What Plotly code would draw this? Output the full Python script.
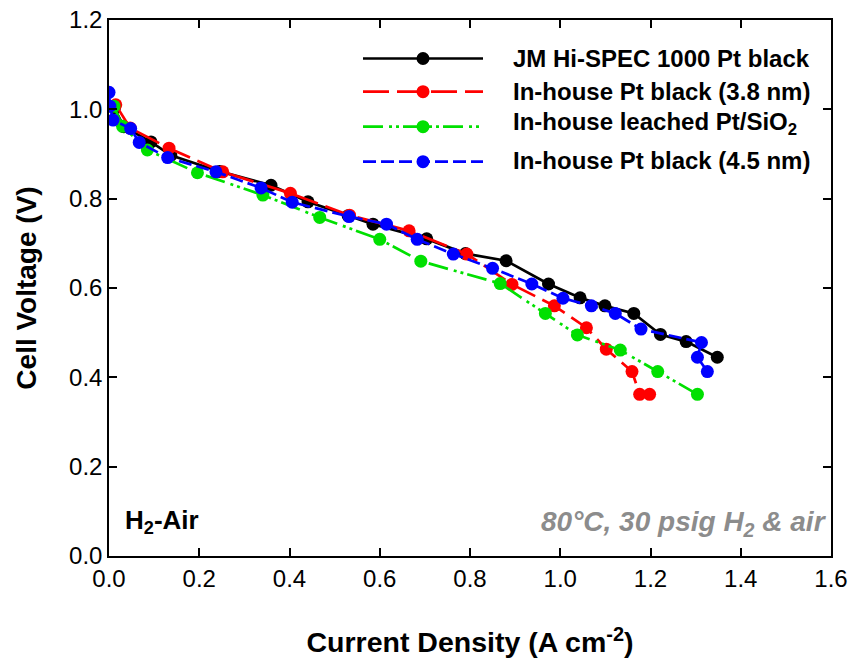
import plotly.graph_objects as go

# ---- data ----
jm_x = [0.012, 0.033, 0.093, 0.137, 0.245, 0.359, 0.441, 0.530, 0.585, 0.704, 0.790, 0.880, 0.974, 1.044, 1.099, 1.163, 1.222, 1.279, 1.348]
jm_y = [1.003, 0.961, 0.927, 0.897, 0.861, 0.830, 0.793, 0.762, 0.743, 0.710, 0.677, 0.661, 0.609, 0.578, 0.560, 0.543, 0.496, 0.480, 0.445]

pt38_x = [0.015, 0.047, 0.133, 0.252, 0.402, 0.533, 0.665, 0.793, 0.893, 0.987, 1.058, 1.102, 1.159, 1.176, 1.198]
pt38_y = [1.010, 0.958, 0.913, 0.860, 0.812, 0.763, 0.728, 0.676, 0.608, 0.560, 0.511, 0.463, 0.413, 0.362, 0.362]

sio2_x = [0.011, 0.030, 0.085, 0.196, 0.341, 0.467, 0.600, 0.691, 0.867, 0.967, 1.038, 1.133, 1.216, 1.304]
sio2_y = [1.007, 0.962, 0.909, 0.858, 0.808, 0.758, 0.709, 0.660, 0.610, 0.543, 0.495, 0.461, 0.413, 0.362]

pt45_x = [0.000, 0.002, 0.009, 0.048, 0.067, 0.130, 0.237, 0.337, 0.406, 0.532, 0.615, 0.683, 0.763, 0.850, 0.937, 1.006, 1.069, 1.122, 1.179, 1.313, 1.304, 1.326]
pt45_y = [1.038, 1.007, 0.976, 0.957, 0.926, 0.892, 0.860, 0.824, 0.792, 0.760, 0.743, 0.709, 0.676, 0.644, 0.609, 0.577, 0.560, 0.543, 0.508, 0.478, 0.445, 0.413]

names = ["JM Hi-SPEC 1000 Pt black",
         "In-house Pt black (3.8 nm)",
         "In-house leached Pt/SiO<sub>2</sub>",
         "In-house Pt black (4.5 nm)"]
colors = ["#000000", "#ff0000", "#00e000", "#0000ff"]
dashes = ["solid", "26px,8px", "20px,6px,3px,4px,3px,4px", "13px,5px"]
xs = [jm_x, pt38_x, sio2_x, pt45_x]
ys = [jm_y, pt38_y, sio2_y, pt45_y]

x_ticks = [0.0, 0.2, 0.4, 0.6, 0.8, 1.0, 1.2, 1.4, 1.6]
y_ticks = [0.0, 0.2, 0.4, 0.6, 0.8, 1.0, 1.2]

FONT = "Liberation Sans, Arial, sans-serif"

fig = go.Figure()
for x, y, n, c, d in zip(xs, ys, names, colors, dashes):
    fig.add_trace(go.Scatter(
        x=x, y=y, mode="lines+markers", name=n, showlegend=False,
        line=dict(color=c, width=2.7, dash=d),
        marker=dict(size=13, color=c, line=dict(width=0)),
    ))

# plot-area geometry in pixels (for the hand-drawn legend)
L, R, T, B = 109, 831, 20, 556
W, H = R - L, B - T
def px(xp):
    return (xp - L) / W
def py(yp):
    return (B - yp) / H

shapes = []
annotations = []
row_line_y = [58.5, 91.7, 126.7, 161.7]
row_text_y = [59, 91.7, 123.5, 160]
for i in range(4):
    yl = py(row_line_y[i])
    shapes.append(dict(type="line", xref="paper", yref="paper",
                       x0=px(363), x1=px(483), y0=yl, y1=yl,
                       line=dict(color=colors[i], width=2.7, dash=dashes[i])))
    shapes.append(dict(type="circle", xref="paper", yref="paper",
                       xsizemode="pixel", ysizemode="pixel",
                       xanchor=px(423), yanchor=yl,
                       x0=-6.5, x1=6.5, y0=-6.5, y1=6.5,
                       fillcolor=colors[i], line=dict(width=0)))
    annotations.append(dict(xref="paper", yref="paper", x=px(511), y=py(row_text_y[i]),
                            xanchor="left", yanchor="middle", showarrow=False,
                            text="<b>" + names[i] + "</b>",
                            font=dict(family=FONT, size=24, color="black")))

annotations.append(dict(xref="paper", yref="paper", x=px(123), y=py(521),
                        xanchor="left", yanchor="middle", showarrow=False,
                        text="<b>H<sub>2</sub>-Air</b>",
                        font=dict(family=FONT, size=26, color="black")))
annotations.append(dict(xref="paper", yref="paper", x=px(829), y=py(523),
                        xanchor="right", yanchor="middle", showarrow=False,
                        text="<b><i>80°C, 30 psig H<sub>2</sub> &amp; air</i></b>",
                        font=dict(family=FONT, size=28, color="#8c8c8c")))

axis_common = dict(
    showline=True, linecolor="black", linewidth=1.5, mirror="ticks",
    ticks="inside", ticklen=8, tickwidth=1.5, tickcolor="black",
    showgrid=False, zeroline=False, automargin=False,
    tickfont=dict(family=FONT, size=24, color="black"),
    tickformat=".1f",
)

fig.update_layout(
    width=853, height=662,
    margin=dict(l=L, r=853 - R, t=T, b=662 - B),
    plot_bgcolor="white", paper_bgcolor="white",
    shapes=shapes, annotations=annotations,
    xaxis=dict(range=[0, 1.6], tickvals=x_ticks, **axis_common,
               title=dict(text="<b>Current Density (A cm<sup>-2</sup>)</b>",
                          font=dict(family=FONT, size=28.5, color="black"), standoff=42)),
    yaxis=dict(range=[0, 1.2], tickvals=y_ticks, **axis_common,
               title=dict(text="<b>Cell Voltage (V)</b>",
                          font=dict(family=FONT, size=28, color="black"), standoff=24)),
)

fig.write_html("out.html", config={"displayModeBar": False},
               post_script="document.body.style.margin='0';")
